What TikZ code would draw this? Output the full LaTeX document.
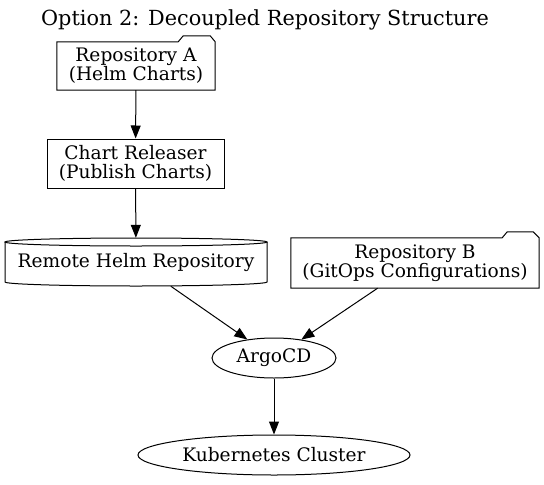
\documentclass[tikz,border=0pt]{standalone}
\usepackage{fontspec}
\setmainfont{DejaVu Serif}
\usetikzlibrary{arrows.meta,shapes.geometric}
\begin{document}
\begin{tikzpicture}[x=1pt,y=-1pt,
  font=\fontsize{18.6}{19}\selectfont,
  lbl/.style={align=center, inner sep=0pt},
  boxnode/.style={lbl, minimum width=#1, minimum height=48pt},
  shp/.style={line width=1pt},
  edge/.style={-{Triangle[length=13pt,width=10pt]}, line width=1pt},
  ellnode/.style={ellipse, draw, line width=1pt, inner sep=0pt, minimum height=40pt, minimum width=#1}]
\useasboundingbox (0,0) rectangle (544,485);
\node[lbl, font=\fontsize{20.8}{22}\selectfont] (title) at (265,20) {Option 2: Decoupled Repository Structure};

\node[boxnode=158pt] (ra) at (136,66) {Repository A\\(Helm Charts)};
\draw[shp] (ra.south west) -- (ra.north west) -- ([xshift=-37pt]ra.north east) -- ++(5,-6) -- ++(27,0) -- ++(5,6) -- (ra.south east) -- cycle;

\node[boxnode=177pt, minimum height=49pt, draw, shp] (cr) at (135.5,163.5) {Chart Releaser\\(Publish Charts)};

\node[boxnode=262pt] (rh) at (136,262) {Remote Helm Repository};
\draw[shp] (136,242) ellipse[x radius=131, y radius=4];
\draw[shp] (5,242) -- (5,282) arc[start angle=180, end angle=0, x radius=131, y radius=4] -- (267,242);

\node[boxnode=248pt, minimum height=50pt] (rb) at (415,263) {Repository B\\(GitOps Configurations)};
\draw[shp] (rb.south west) -- (rb.north west) -- ([xshift=-37pt]rb.north east) -- ++(5,-6) -- ++(26,0) -- ++(6,6) -- (rb.south east) -- cycle;

\node[ellnode=124pt] (argo) at (274,358) {ArgoCD};
\node[ellnode=272pt] (k8s) at (274,455) {Kubernetes Cluster};

\draw[edge] (ra) -- (cr);
\draw[edge] (cr) -- (rh);
\draw[edge] (rh) -- (argo);
\draw[edge] (rb) -- (argo);
\draw[edge] (argo) -- (k8s);
\end{tikzpicture}
\end{document}
